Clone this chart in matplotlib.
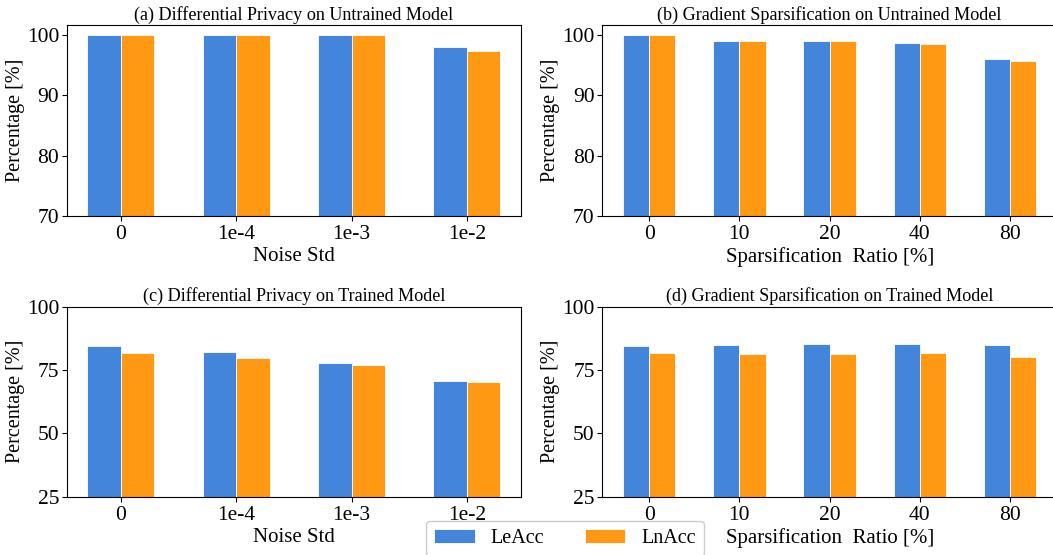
import numpy as np
import matplotlib
matplotlib.use("Agg")
from matplotlib import pyplot as plt

plt.rcParams["font.family"] = ["Liberation Serif", "DejaVu Serif"]

# data
noise_labels = ["0", "1e-4", "1e-3", "1e-2"]
sparse_labels = ["0", "10", "20", "40", "80"]

dp_untrained_le = [100.0, 100.0, 100.0, 98.0]
dp_untrained_ln = [100.0, 100.0, 100.0, 97.3]
gs_untrained_le = [100.0, 99.0, 99.0, 98.7, 96.0]
gs_untrained_ln = [100.0, 99.0, 99.0, 98.5, 95.7]

dp_trained_le = [84.5, 82.1, 77.8, 70.7]
dp_trained_ln = [81.7, 79.8, 77.0, 70.3]
gs_trained_le = [84.5, 84.9, 85.3, 85.3, 84.9]
gs_trained_ln = [81.7, 81.3, 81.3, 81.7, 80.1]

BLUE = "#4285db"
ORANGE = "#ff9914"
W, H = 1053, 555

fig = plt.figure(figsize=(W / 100, H / 100), dpi=100)


def panel(rect, labels, le, ln, title, xlabel, ylim, yticks):
    wpx = rect[2] - rect[0]
    ax = fig.add_axes([rect[0] / W, 1 - rect[3] / H, wpx / W, (rect[3] - rect[1]) / H])
    x = np.arange(len(labels))
    w = 0.29
    ax.bar(x - w / 2, le, w, color=BLUE, edgecolor="white", linewidth=0.6, label="LeAcc")
    ax.bar(x + w / 2, ln, w, color=ORANGE, edgecolor="white", linewidth=0.6, label="LnAcc")
    ax.set_xticks(x)
    ax.set_xticklabels(labels, fontsize=15.5)
    ax.set_yticks(yticks)
    ax.tick_params(axis="y", labelsize=15.5, pad=2)
    ax.set_ylim(*ylim)
    ax.set_ylabel("Percentage [%]", fontsize=14.5)
    ax.yaxis.set_label_coords(-42 / wpx, 0.5)
    ax.set_xlabel(xlabel, fontsize=15, labelpad=2)
    ax.set_title(title, fontsize=13.1, pad=4)
    return ax


ax_a = panel((66.7, 25, 521, 215.7), noise_labels, dp_untrained_le, dp_untrained_ln,
             "(a) Differential Privacy on Untrained Model", "Noise Std", (70, 101.7), [70, 80, 90, 100])
panel((602.3, 25, 1057, 215.7), sparse_labels, gs_untrained_le, gs_untrained_ln,
      "(b) Gradient Sparsification on Untrained Model", "Sparsification  Ratio [%]", (70, 101.7), [70, 80, 90, 100])
panel((66.7, 306.7, 521, 496.7), noise_labels, dp_trained_le, dp_trained_ln,
      "(c) Differential Privacy on Trained Model", "Noise Std", (25, 100), [25, 50, 75, 100])
panel((602.3, 306.7, 1057, 496.7), sparse_labels, gs_trained_le, gs_trained_ln,
      "(d) Gradient Sparsification on Trained Model", "Sparsification  Ratio [%]", (25, 100), [25, 50, 75, 100])

handles, labels = ax_a.get_legend_handles_labels()
fig.legend(handles, labels, loc="upper center", bbox_to_anchor=(565 / W, 1 - 521 / H),
           ncol=2, fontsize=14.5, columnspacing=2.0, handlelength=2.0,
           borderaxespad=0, framealpha=1)

fig.savefig("out.png", dpi=100)
